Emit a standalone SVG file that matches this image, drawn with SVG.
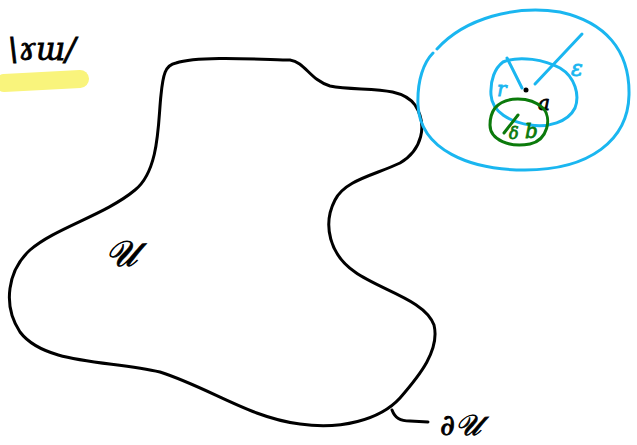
<svg xmlns="http://www.w3.org/2000/svg" width="637" height="445" viewBox="0 0 637 445">
<style>
.ink{fill:none;stroke-linecap:round;stroke-linejoin:round;stroke-width:3}
.k{stroke:#000}
.b{stroke:#1ab6f0}
.g{stroke:#0b7a0b}
.t{font-family:"DejaVu Serif","Liberation Serif",serif;font-style:italic;stroke-width:0.8}
</style>
<rect width="637" height="445" fill="#fff"/>
<g id="highlight">
<path d="M4,83 L80,79" stroke="#f9f47c" stroke-width="18" stroke-linecap="round" fill="none"/>
</g>
<g id="mirror-label">
<text class="t" x="8" y="60" font-size="31" fill="#000" stroke="#000">\ɤɯ/</text>
</g>
<g id="region-U">
<path class="ink k" d="M176,63 C200,55 270,60 290,60 C305,62 310,80 330,86 C360,92 400,84 415,105 C428,125 422,150 400,163 C375,175 345,180 335,200 C322,225 330,255 355,272 C380,290 425,300 434,325 C440,350 420,375 400,398 C380,420 340,430 300,424 C250,418 210,388 160,372 C110,360 45,365 20,332 C2,305 8,270 30,250 C55,228 105,215 135,190 C160,170 158,120 161,95 C163,75 165,65 176,63 Z"/>
<text class="t" x="105" y="266" font-size="36" fill="#000" stroke="#000">𝒰</text>
</g>
<g id="boundary-label">
<text class="t" x="440" y="435" font-size="29" fill="#000" stroke="#000">∂𝒰</text>
</g>
<g id="outer-ball">
<path class="ink b" d="M437,49 C465,18 515,5 560,12 C605,22 630,50 629,95 C628,140 590,170 525,170 C470,170 420,150 418,105 C417,80 424,62 433,53"/>
<text class="t" x="571" y="76" font-size="22" fill="#1ab6f0" stroke="#1ab6f0">ε</text>
</g>
<g id="inner-ball">
<path class="ink b" d="M503,62 C520,55 545,60 560,68 C575,77 580,95 575,108 C568,122 548,128 530,125 C510,122 492,112 491,95 C490,80 495,68 503,62 Z"/>
<text class="t" x="497" y="96" font-size="20" fill="#1ab6f0" stroke="#1ab6f0">r</text>
</g>
<g id="point-a">
<circle cx="526" cy="90" r="2.5" fill="#000"/>
<text class="t" x="538" y="110" font-size="20" fill="#000" stroke="#000">a</text>
</g>
<g id="ball-b">
<path class="ink g" d="M495,108 C505,96 530,96 543,108 C552,118 548,140 530,144 C510,148 490,140 490,125 C490,118 492,112 495,108 Z"/>
<text class="t" x="509" y="139" font-size="16" fill="#0b7a0b" stroke="#0b7a0b">δ</text>
<text class="t" x="525" y="138" font-size="20" fill="#0b7a0b" stroke="#0b7a0b">b</text>
</g>
<g id="connectors">
<path class="ink k" d="M392,410 C395,418 400,421 410,421 L428,422"/>
<path class="ink b" d="M582,34 L535,84"/>
<path class="ink b" d="M507,58 L522,88"/>
<path class="ink g" d="M518,115 L504,133"/>
</g>
</svg>
